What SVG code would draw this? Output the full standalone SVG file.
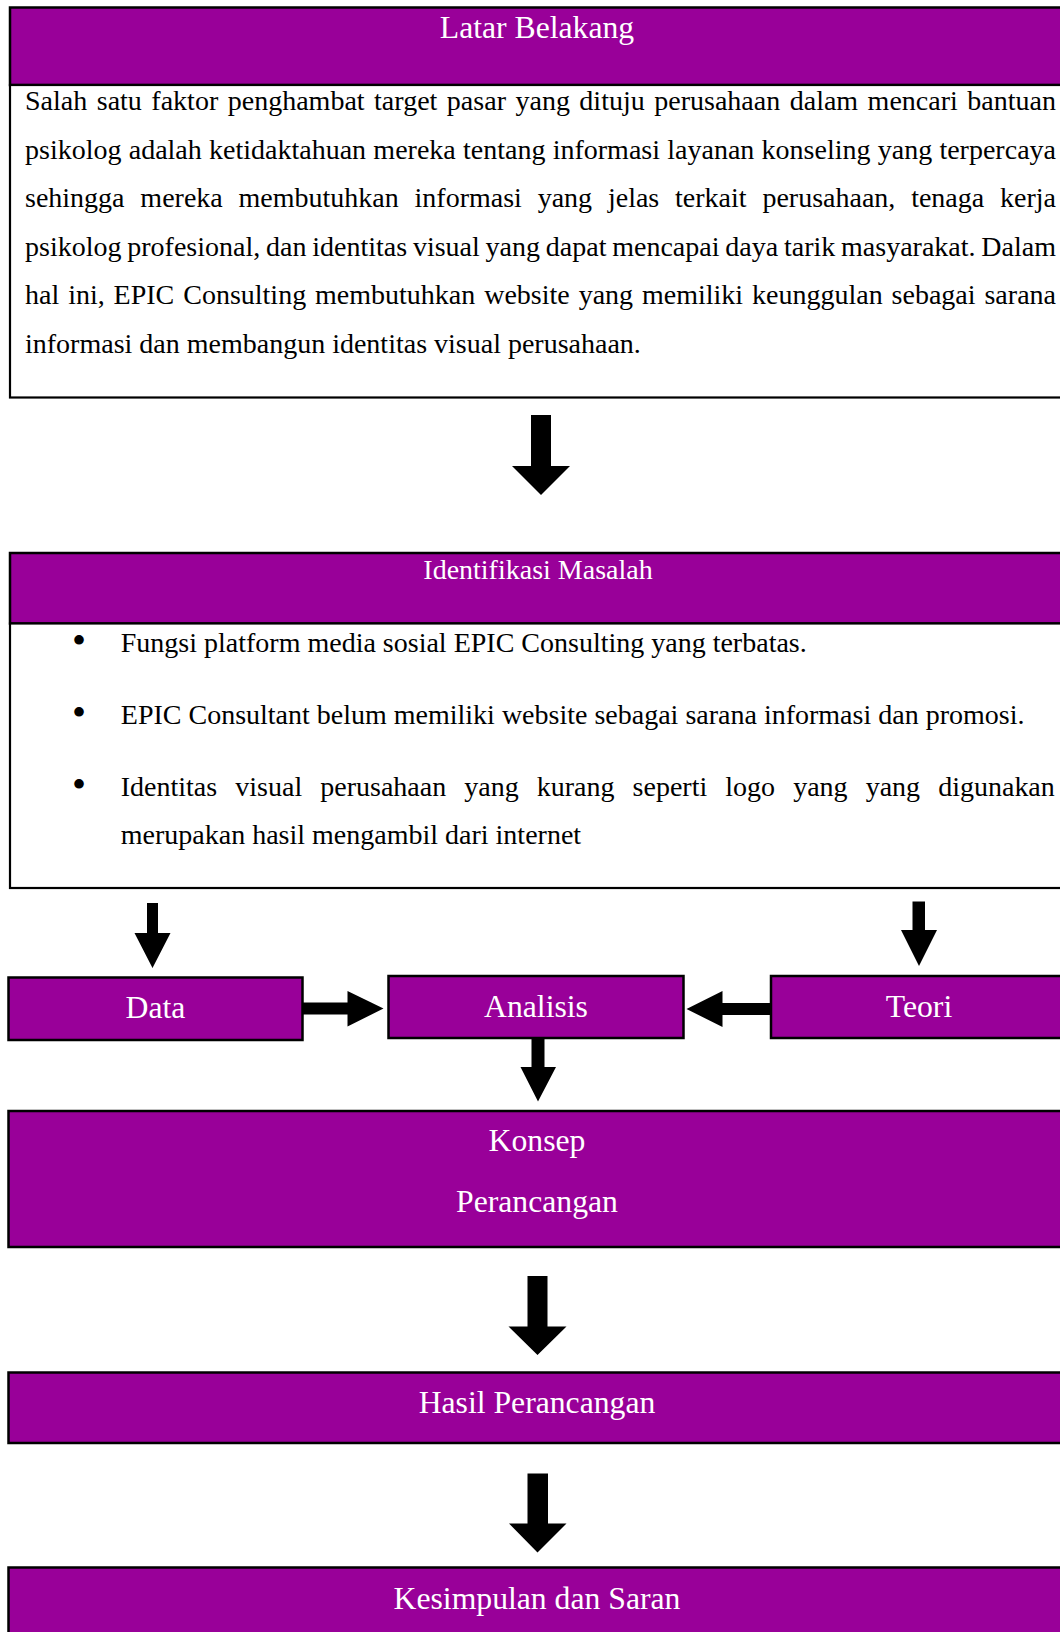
<svg xmlns="http://www.w3.org/2000/svg" width="1060" height="1632" viewBox="0 0 1060 1632">
<style>
.box{fill:#990099;stroke:#000;stroke-width:2.5}
.frame{fill:#fff;stroke:#000;stroke-width:2.2}
.lbl{font-family:"Liberation Serif","Times New Roman",serif;font-size:31.7px;fill:#fff;text-anchor:middle}
.lbl2{font-family:"Liberation Serif","Times New Roman",serif;font-size:28px;fill:#fff;text-anchor:middle}
.body{font-family:"Liberation Serif","Times New Roman",serif;font-size:28px;fill:#000}
.bul{font-family:"Liberation Serif","Times New Roman",serif;font-size:40px;fill:#000;text-anchor:middle}
.arrow{fill:#000}
</style>
<rect width="1060" height="1632" fill="#fff"/>
<g id="latar-belakang">
<rect x="10" y="7.5" width="1056" height="77.5" class="box"/>
<rect x="10" y="85" width="1056" height="312.5" class="frame"/>
<text x="537" y="38" class="lbl">Latar Belakang</text>
<text x="25" y="110" class="body" word-spacing="2.46" textLength="1031" lengthAdjust="spacing">Salah satu faktor penghambat target pasar yang dituju perusahaan dalam mencari bantuan</text>
<text x="25" y="158.6" class="body" word-spacing="0.24" textLength="1031" lengthAdjust="spacing">psikolog adalah ketidaktahuan mereka tentang informasi layanan konseling yang terpercaya</text>
<text x="25" y="207.2" class="body" word-spacing="8.8" textLength="1031" lengthAdjust="spacing">sehingga mereka membutuhkan informasi yang jelas terkait perusahaan, tenaga kerja</text>
<text x="25" y="255.8" class="body" word-spacing="-1.22" textLength="1031" lengthAdjust="spacing">psikolog profesional, dan identitas visual yang dapat mencapai daya tarik masyarakat. Dalam</text>
<text x="25" y="304.4" class="body" word-spacing="1.92" textLength="1031" lengthAdjust="spacing">hal ini, EPIC Consulting membutuhkan website yang memiliki keunggulan sebagai sarana</text>
<text x="25" y="353" class="body">informasi dan membangun identitas visual perusahaan.</text>
</g>
<g id="identifikasi-masalah">
<rect x="10" y="553" width="1056" height="70.5" class="box"/>
<rect x="10" y="623.5" width="1056" height="264.5" class="frame"/>
<text x="538" y="579" class="lbl2">Identifikasi Masalah</text>
<text x="79" y="654" class="bul">•</text>
<text x="120.8" y="651.5" class="body">Fungsi platform media sosial EPIC Consulting yang terbatas.</text>
<text x="79" y="726" class="bul">•</text>
<text x="120.8" y="723.5" class="body">EPIC Consultant belum memiliki website sebagai sarana informasi dan promosi.</text>
<text x="79" y="798" class="bul">•</text>
<text x="120.8" y="795.5" class="body" word-spacing="11.1" textLength="934" lengthAdjust="spacing">Identitas visual perusahaan yang kurang seperti logo yang yang digunakan</text>
<text x="120.8" y="843.5" class="body">merupakan hasil mengambil dari internet</text>
</g>
<g id="data">
<rect x="8.5" y="977.5" width="294" height="62.5" class="box"/>
<text x="155.5" y="1017.5" class="lbl">Data</text>
</g>
<g id="analisis">
<rect x="388.5" y="976" width="295" height="62" class="box"/>
<text x="536" y="1017" class="lbl">Analisis</text>
</g>
<g id="teori">
<rect x="771" y="976" width="300" height="62" class="box"/>
<text x="919" y="1017" class="lbl">Teori</text>
</g>
<g id="konsep-perancangan">
<rect x="8.5" y="1111" width="1058" height="136" class="box"/>
<text x="537" y="1151" class="lbl">Konsep</text>
<text x="537" y="1212" class="lbl">Perancangan</text>
</g>
<g id="hasil-perancangan">
<rect x="8.5" y="1372.5" width="1058" height="70.5" class="box"/>
<text x="537" y="1412.5" class="lbl">Hasil Perancangan</text>
</g>
<g id="kesimpulan-saran">
<rect x="8.5" y="1567.5" width="1058" height="100" class="box"/>
<text x="537" y="1608.5" class="lbl">Kesimpulan dan Saran</text>
</g>
<g id="connectors" class="arrow">
<polygon points="531,415 551,415 551,466 570,466 541,495 512,466 531,466"/>
<polygon points="147,903 158,903 158,933 170.5,933 152.5,968 134.5,933 147,933"/>
<polygon points="912.5,901.5 925,901.5 925,930 937,930 919,966 901,930 912.5,930"/>
<polygon points="302.5,1002.5 347.5,1002.5 347.5,991 383.5,1008.5 347.5,1026.5 347.5,1014.5 302.5,1014.5"/>
<polygon points="771,1003 722.5,1003 722.5,991 686.5,1009 722.5,1027 722.5,1015 771,1015"/>
<polygon points="531.5,1038 544.5,1038 544.5,1067 556,1067 538,1101.5 520.5,1067 531.5,1067"/>
<polygon points="527.5,1276 547.5,1276 547.5,1326.5 566.5,1326.5 537.5,1355 508.5,1326.5 527.5,1326.5"/>
<polygon points="527.5,1473.5 548,1473.5 548,1523.5 566.5,1523.5 537.5,1552.5 509,1523.5 527.5,1523.5"/>
</g>
</svg>
